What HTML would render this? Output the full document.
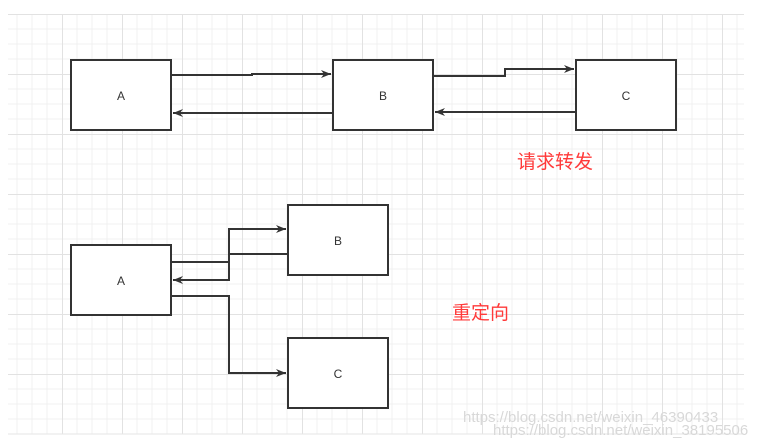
<!DOCTYPE html>
<html><head><meta charset="utf-8"><style>
html,body{margin:0;padding:0;background:#fff;}
svg{display:block;}
</style></head><body>
<svg width="773" height="448" xmlns="http://www.w3.org/2000/svg">
<defs>
<pattern id="g" x="2" y="14" width="60" height="60" patternUnits="userSpaceOnUse">
<path d="M15 0V60M30 0V60M45 0V60M0 15H60M0 30H60M0 45H60" stroke="#f0f0f0" stroke-width="1" fill="none"/>
<path d="M0.5 0V60M0 0.5H60" stroke="#e2e2e2" stroke-width="1" fill="none"/>
</pattern>
<marker id="ar" markerWidth="10" markerHeight="8" refX="10" refY="4" orient="auto" markerUnits="userSpaceOnUse">
<path d="M0 0L10 4L0 8L3 4Z" fill="#333"/>
</marker>
</defs>
<rect x="8" y="14" width="736" height="420" fill="url(#g)"/>
<line x1="8" y1="434" x2="744" y2="434" stroke="#e6e6e6"/>
<g fill="#fff" stroke="#333" stroke-width="2">
<rect x="71" y="60" width="100" height="70"/>
<rect x="333" y="60" width="100" height="70"/>
<rect x="576" y="60" width="100" height="70"/>
<rect x="71" y="245" width="100" height="70"/>
<rect x="288" y="205" width="100" height="70"/>
<rect x="288" y="338" width="100" height="70"/>
</g>
<g fill="none" stroke="#333" stroke-width="2" marker-end="url(#ar)">
<path d="M171 75H252V74H331"/>
<path d="M333 113H173"/>
<path d="M433 76H505V69H574"/>
<path d="M576 112H435"/>
<path d="M171 262H229V229H286"/>
<path d="M288 254H229V280H173"/>
<path d="M171 296H229V373H286"/>
</g>
<g font-family="Liberation Sans, sans-serif" font-size="12" fill="#333" text-anchor="middle">
<text x="121" y="100">A</text>
<text x="383" y="100">B</text>
<text x="626" y="100">C</text>
<text x="121" y="285">A</text>
<text x="338" y="245">B</text>
<text x="338" y="378">C</text>
</g>
<g font-family="Liberation Sans, 'Noto Sans CJK SC', sans-serif" font-size="19" fill="#ff3a3a">
<text x="517" y="168">请求转发</text>
<text x="452" y="319">重定向</text>
</g>
<g font-family="Liberation Sans, sans-serif" font-size="15" fill="#d8d8d8">
<text x="463" y="422">https://blog.csdn.net/weixin_46390433</text>
<text x="493" y="435">https://blog.csdn.net/weixin_38195506</text>
</g>
</svg>
</body></html>
